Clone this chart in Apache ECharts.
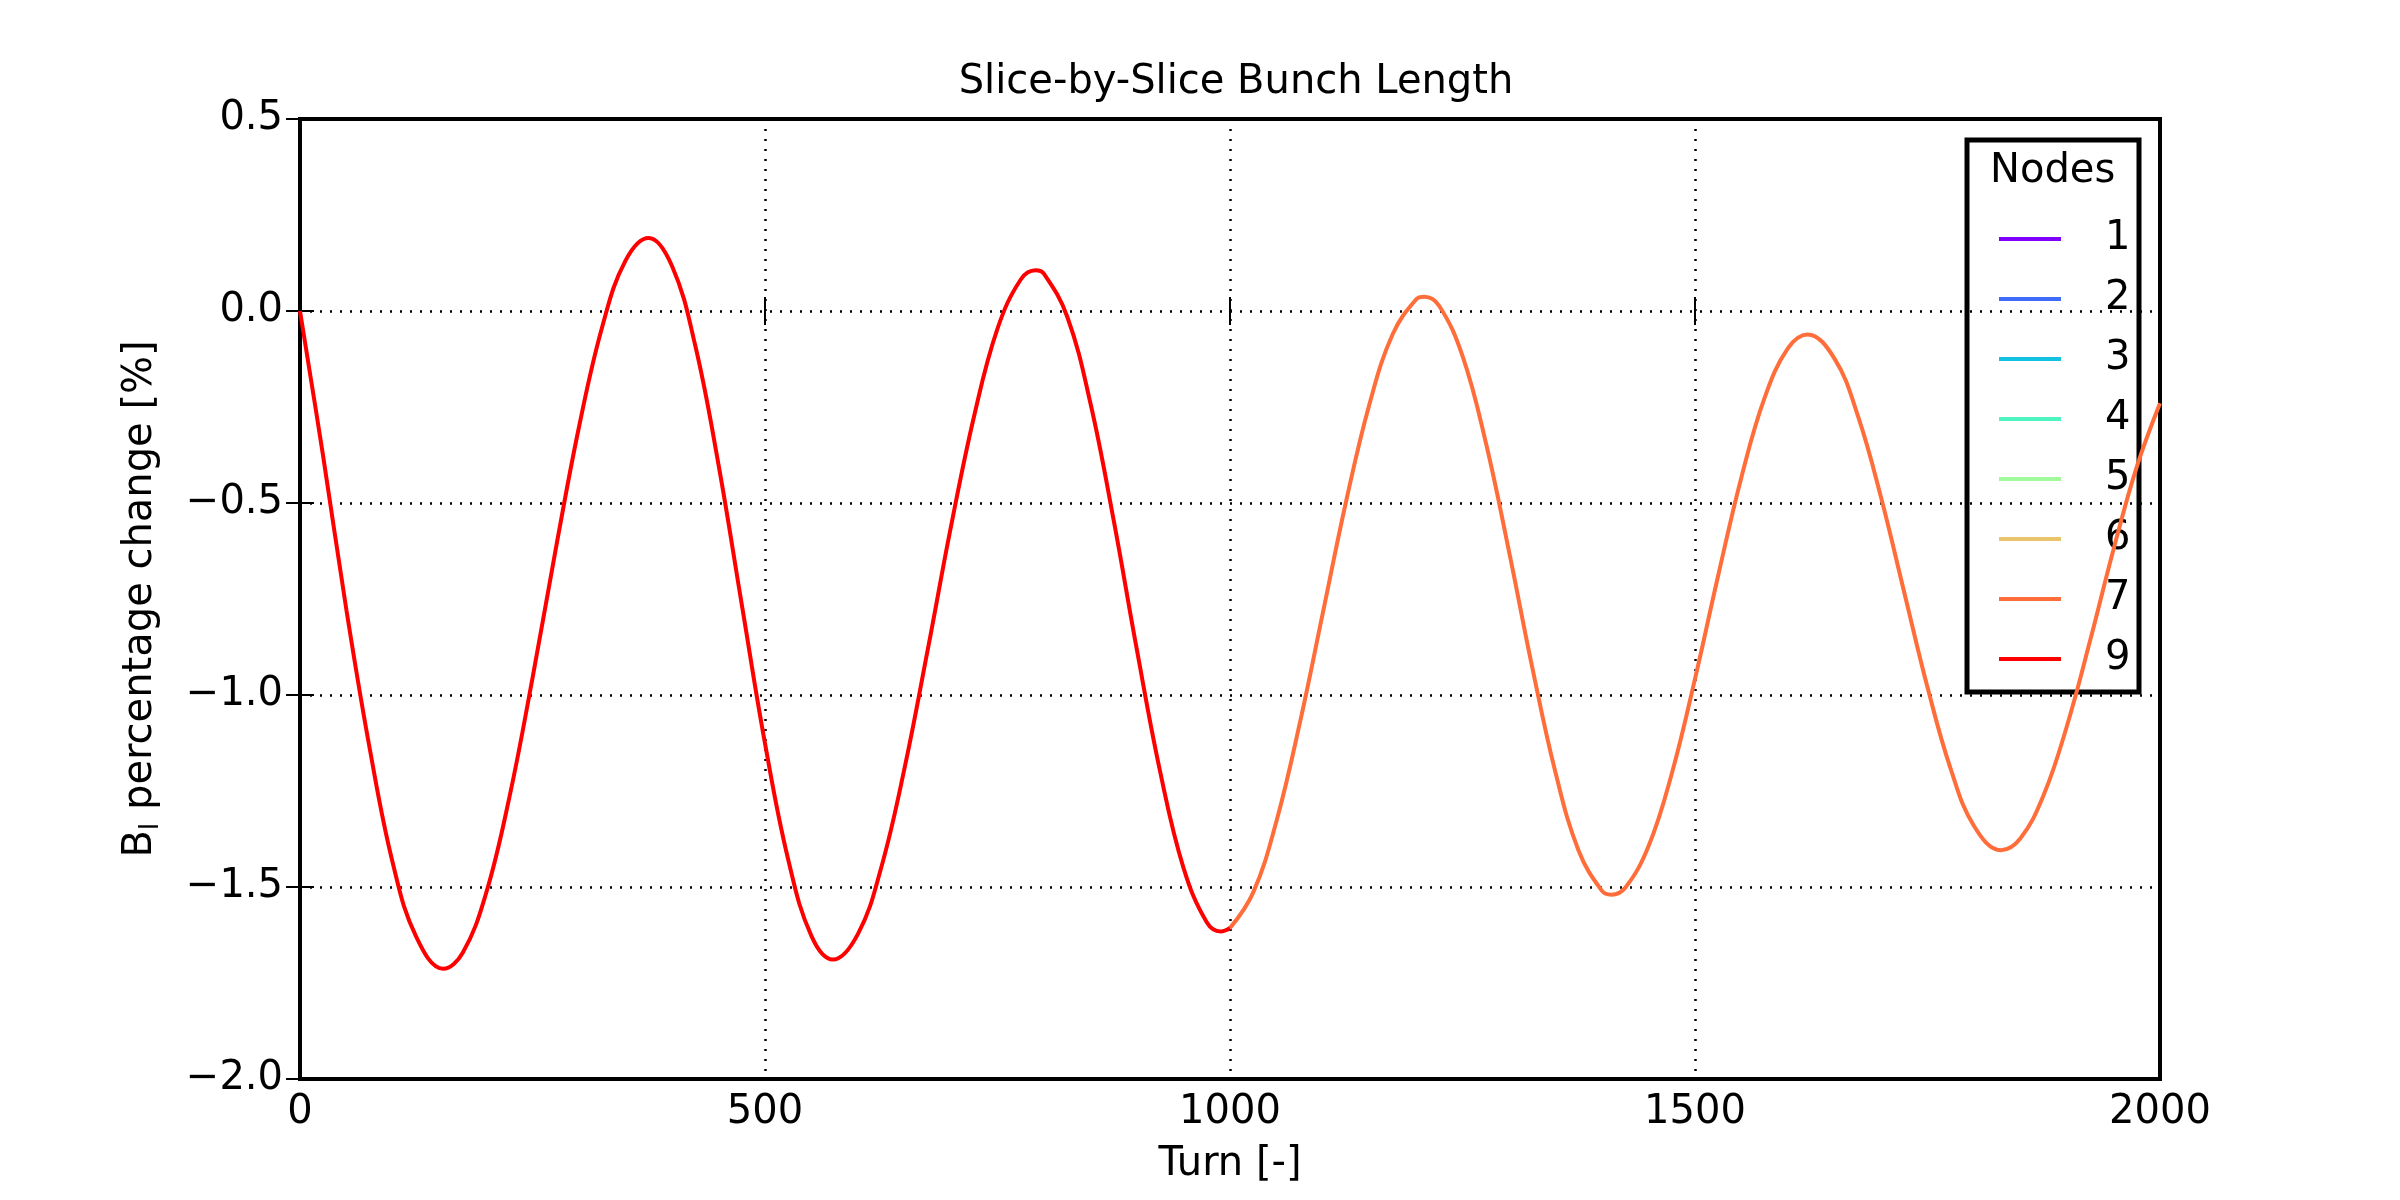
<!DOCTYPE html>
<html>
<head>
<meta charset="utf-8">
<script src="https://cdn.jsdelivr.net/npm/echarts@6/dist/echarts.min.js"></script>
<style>
  html, body { margin: 0; padding: 0; background: #fff; }
  #chart { width: 2400px; height: 1200px; }
</style>
</head>
<body>
<div id="chart"></div>
<script>
// Slice-by-slice bunch length
const NODES = ['1', '2', '3', '4', '5', '6', '7', '9']
const NODE_COLORS = ['#8000ff', '#3f6df9', '#13c1e3', '#4ef5c0', '#a0f99a', '#eac46a', '#ff6d3a', '#ff0000']

// node 9 (red) runs up to turn 1000
const turns9 = [0, 25, 50, 75, 100, 125, 154, 175, 200, 225, 250, 275, 300, 325, 350, 375,
  400, 425, 450, 475, 500, 525, 550, 573, 600, 625, 650, 675, 700, 725, 750, 775, 791,
  800, 825, 850, 875, 900, 925, 950, 975, 990, 1000]
const node9 = [0, -0.38, -0.78, -1.14, -1.44, -1.63, -1.713, -1.671, -1.517, -1.268, -0.956, -0.62, -0.302, -0.041, 0.131, 0.19,
  0.117, -0.09, -0.4, -0.764, -1.126, -1.429, -1.628, -1.689, -1.622, -1.449, -1.191, -0.882, -0.561, -0.272, -0.046, 0.082, 0.106,
  0.097, -0.015, -0.241, -0.546, -0.884, -1.201, -1.45, -1.592, -1.616, -1.607]

// node 7 (orange) from turn 1000 on
const turns7 = [1000, 1025, 1050, 1075, 1100, 1125, 1150, 1175, 1200, 1209, 1225, 1250, 1275, 1300, 1325, 1350, 1375, 1400, 1410,
  1425, 1450, 1475, 1500, 1525, 1550, 1575, 1600, 1621, 1650, 1675, 1700, 1725, 1750, 1775, 1800, 1829,
  1850, 1875, 1900, 1925, 1950, 1975, 2000]
const node7 = [-1.607, -1.514, -1.328, -1.074, -0.784, -0.494, -0.242, -0.06, 0.03, 0.037, 0.013, -0.117, -0.342, -0.626, -0.928, -1.202, -1.406, -1.51, -1.52,
  -1.502, -1.394, -1.205, -0.958, -0.688, -0.432, -0.225, -0.097, -0.061, -0.124, -0.272, -0.485, -0.733, -0.98, -1.193, -1.341, -1.404,
  -1.373, -1.26, -1.08, -0.857, -0.621, -0.406, -0.24]

const FONT = '"DejaVu Sans", sans-serif'
const FS = 40
const pairs = (xs, ys) => xs.map((x, i) => [x, ys[i]])
const fmtY = v => (v < 0 ? '\u2212' : '') + Math.abs(v).toFixed(1)

const seriesData = { '7': pairs(turns7, node7), '9': pairs(turns9, node9) }

const chart = echarts.init(document.getElementById('chart'))

const tickStyle = { inside: true, length: 14, lineStyle: { color: '#000', width: 2 } }
const gridLine = { show: true, lineStyle: { color: '#000', type: [2, 8], width: 2.5 } }

chart.setOption({
  animation: false,
  textStyle: { fontFamily: FONT },
  title: {
    text: 'Slice-by-Slice Bunch Length',
    left: 1231, top: 58, textAlign: 'center',
    textStyle: { fontFamily: FONT, fontSize: FS, fontWeight: 'normal', color: '#000' }
  },
  grid: { left: 300, right: 240, top: 119, bottom: 121, show: true, borderColor: '#000', borderWidth: 4, backgroundColor: 'transparent' },
  legend: {
    orient: 'vertical',
    left: 1994, top: 212,
    data: NODES,
    icon: 'rect',
    itemWidth: 62, itemHeight: 4, itemGap: 16,
    textStyle: { fontFamily: FONT, fontSize: FS, color: '#000', padding: [0, 0, 0, 39], lineHeight: 44 }
  },
  graphic: [
    { type: 'rect', shape: { x: 1967, y: 140, width: 172, height: 552 }, style: { fill: '#fff', stroke: '#000', lineWidth: 5 }, z: 0 },
    { type: 'text', left: 1990, top: 152, style: { text: 'Nodes', font: FS + 'px ' + FONT, fill: '#000' }, z: 1 }
  ],
  xAxis: [{
    type: 'value', min: 0, max: 2000, interval: 500,
    name: 'Turn [-]', nameLocation: 'middle', nameGap: 66,
    nameTextStyle: { fontFamily: FONT, fontSize: FS, color: '#000' },
    axisLine: { show: false },
    axisTick: tickStyle,
    axisLabel: { fontFamily: FONT, fontSize: FS, color: '#000', margin: 14, formatter: v => String(v) },
    splitLine: gridLine
  }, {
    type: 'value', position: 'top', min: 0, max: 2000, interval: 500,
    axisLine: { show: false }, axisTick: tickStyle, axisLabel: { show: false }, splitLine: { show: false }
  }],
  yAxis: [{
    type: 'value', min: -2, max: 0.5, interval: 0.5,
    name: 'B{s|l} percentage change [%]', nameLocation: 'middle', nameGap: 136, nameRotate: 90,
    nameTextStyle: { fontFamily: FONT, fontSize: FS, color: '#000', rich: { s: { fontFamily: FONT, fontSize: 27, verticalAlign: 'bottom', padding: [20, 0, 0, 0] } } },
    axisLine: { show: false },
    axisTick: tickStyle,
    axisLabel: { fontFamily: FONT, fontSize: FS, color: '#000', margin: 17, formatter: fmtY },
    splitLine: gridLine
  }, {
    type: 'value', position: 'right', min: -2, max: 0.5, interval: 0.5,
    axisLine: { show: false }, axisTick: tickStyle, axisLabel: { show: false }, splitLine: { show: false }
  }],
  series: NODES.map((n, i) => ({
    name: n,
    type: 'line',
    data: seriesData[n] || [],
    showSymbol: false,
    smooth: 0.4,
    color: NODE_COLORS[i],
    lineStyle: { width: 4, color: NODE_COLORS[i] },
    z: 2 + i
  }))
})
</script>
</body>
</html>
